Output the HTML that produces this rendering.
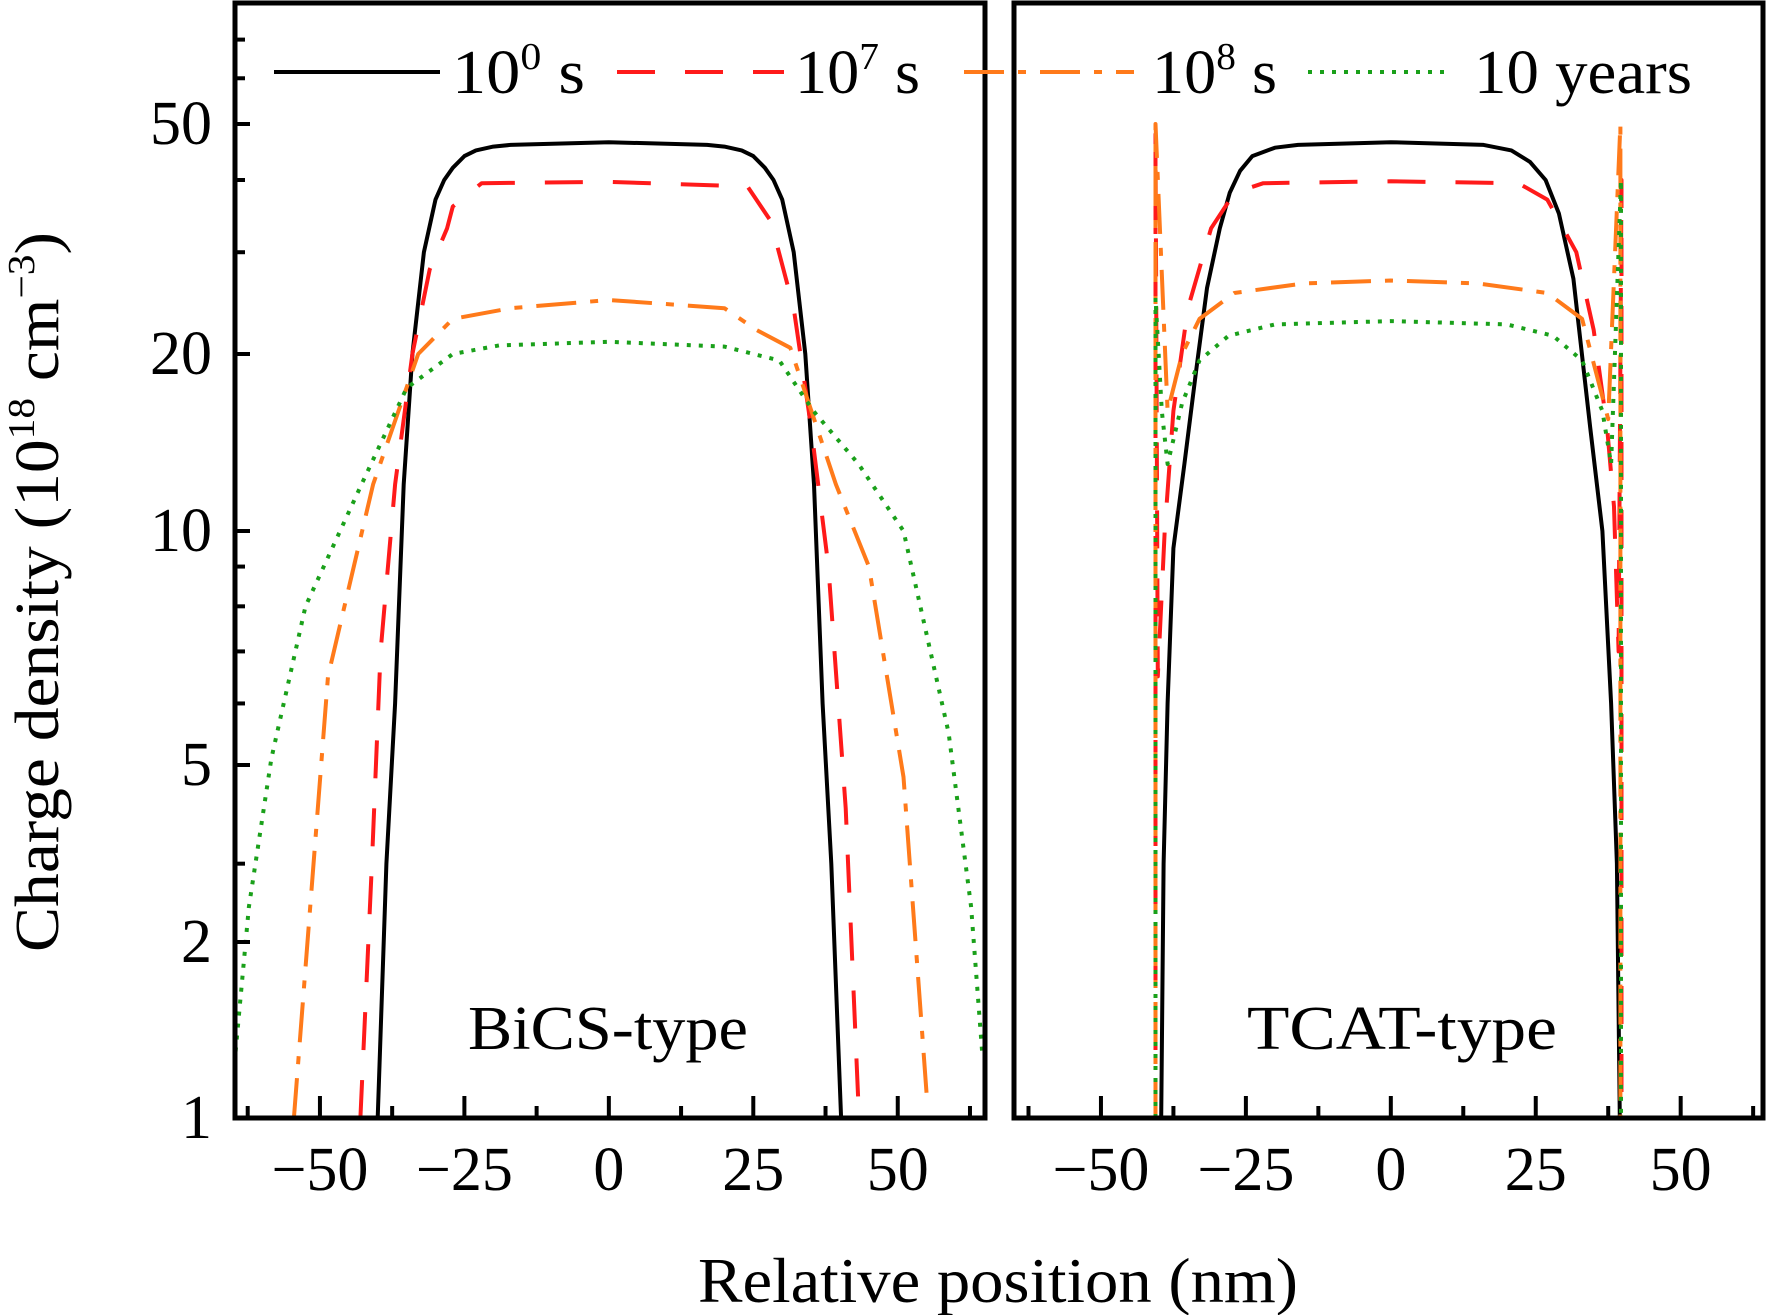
<!DOCTYPE html>
<html><head><meta charset="utf-8"><style>
html,body{margin:0;padding:0;background:#fff;}
svg{display:block;font-family:"Liberation Serif",serif;}
</style></head><body>
<svg id="chart" width="1769" height="1315" viewBox="0 0 1769 1315" xmlns="http://www.w3.org/2000/svg">
<defs>
<clipPath id="clipL"><rect x="235" y="3" width="750" height="1115"/></clipPath>
<clipPath id="clipR"><rect x="1014" y="3" width="749" height="1115"/></clipPath>
</defs>
<g id="plots"></g>
<g>
<line x1="274" y1="72" x2="440" y2="72" stroke="#000" stroke-width="4"/>
<text x="452" y="93" font-size="62" textLength="133" lengthAdjust="spacingAndGlyphs">10<tspan dy="-24" font-size="38">0</tspan><tspan dy="24"> s</tspan></text>
<line x1="617" y1="72" x2="784" y2="72" stroke="#ff1a1a" stroke-width="4" stroke-dasharray="38,30"/>
<text x="795" y="93" font-size="62" textLength="125" lengthAdjust="spacingAndGlyphs">10<tspan dy="-24" font-size="38">7</tspan><tspan dy="24"> s</tspan></text>
<line x1="964" y1="72" x2="1134" y2="72" stroke="#ff7a1a" stroke-width="4" stroke-dasharray="40,14,8,14"/>
<text x="1152" y="93" font-size="62" textLength="125" lengthAdjust="spacingAndGlyphs">10<tspan dy="-24" font-size="38">8</tspan><tspan dy="24"> s</tspan></text>
<line x1="1308" y1="72" x2="1444" y2="72" stroke="#1aa01a" stroke-width="4" stroke-dasharray="4,8"/>
<text x="1474" y="93" font-size="62" textLength="218" lengthAdjust="spacingAndGlyphs">10 years</text>
</g>
<text x="608" y="1049" font-size="62" text-anchor="middle" textLength="280" lengthAdjust="spacingAndGlyphs">BiCS-type</text>
<text x="1402" y="1049" font-size="62" text-anchor="middle" textLength="310" lengthAdjust="spacingAndGlyphs">TCAT-type</text>
<text x="998" y="1302" font-size="64" text-anchor="middle" textLength="600" lengthAdjust="spacingAndGlyphs">Relative position (nm)</text>
<text transform="translate(58,592) rotate(-90)" font-size="62" text-anchor="middle" textLength="720" lengthAdjust="spacingAndGlyphs">Charge density (10<tspan dy="-24" font-size="38">18</tspan><tspan dy="24"> cm</tspan><tspan dy="-24" font-size="38">−3</tspan><tspan dy="24">)</tspan></text>
</svg>
<script>
const yTickValues=[1,2,5,10,20,50];
const yTickLabels=["1","2","5","10","20","50"];
const yMinorValues=[3,6,7,8,9,30,40,60,70];
const xTickValues=[-50,-25,0,25,50];
const xTickLabels=["\u221250","\u221225","0","25","50"];
const xMinorValues=[-62.5,-37.5,-12.5,12.5,37.5,62.5];
const seriesNames=["1e0s","1e7s","1e8s","10years"];
const bicsBlack=[[-40,1],[-38.5,3],[-37,6],[-35.5,12],[-34,20],[-32,30],[-30,37],[-28.5,40],[-27,42],[-25,44],[-23,45],[-20,45.7],[-17,46],[0,46.5],[17,46],[20,45.7],[23,45],[25,44],[27,42],[28.5,40],[30,37],[32,30],[34,20],[35.5,12],[37,6],[38.5,3],[40.2,1]];
const bicsRed=[[-43,1],[-41,3],[-39.5,7],[-37,12],[-34,20],[-31,28],[-28,33],[-27,36],[-22,39.5],[0,39.7],[24,39],[28,34],[32,24],[35,15],[38,9],[41,4],[43.3,1]];
const bicsOrange=[[-54.5,1],[-48.6,6.5],[-40.8,12],[-33,20],[-27,23],[-17,24],[0,24.8],[20,24],[25.6,22],[31.4,20.5],[39.3,12],[45,9],[51,4.7],[55,1.1]];
const bicsGreen=[[-64.6,1.3],[-62.3,2.4],[-58.4,5.1],[-52.5,8],[-42.8,12],[-35,17.5],[-27,20],[-19,20.7],[0,21],[20,20.6],[29.5,19.5],[35.4,16],[43.2,13],[51,10],[58.8,5.5],[62.7,2.4],[64.6,1.3]];
const tcatBlack=[[-39.6,1],[-39.2,3],[-38.5,6],[-37.5,9.5],[-35.6,13],[-33.5,19],[-31.7,26],[-29.5,33],[-27.8,38],[-26,41.5],[-23.9,44],[-20,45.5],[-16,46],[0,46.5],[16,46],[20.8,45],[24,43],[26.7,40],[29,35],[31.5,27],[34.4,15],[36.5,10],[38,6],[39,3],[39.5,1]];
const tcatRed=[[-40.6,1],[-40.6,48],[-40.2,6.5],[-39,10],[-37.5,16],[-35,24],[-31,33],[-27,38],[-22,39.5],[0,39.8],[22,39.5],[27,37],[32,30],[35,22],[37.3,15],[38.5,11],[39.3,7],[39.8,40],[39.8,1]];
const tcatOrange=[[-40.6,1],[-40.6,50],[-38.5,16],[-36,20],[-33,23],[-27,25.5],[-15,26.5],[0,26.8],[15,26.5],[27,25.5],[33,23],[37.5,15.5],[39.6,50],[39.6,1]];
const tcatGreen=[[-40.6,1],[-40.6,25],[-39.5,16],[-38.5,13],[-36,16.5],[-33,19.5],[-28,21.5],[-20,22.5],[0,22.8],[20,22.5],[28,21.5],[33,19.5],[36.5,16],[38,13],[39.7,40],[39.7,1]];

const NS="http://www.w3.org/2000/svg";
const yAnchors=[[0,1118],[Math.log10(2),942],[Math.log10(5),765],[1,531],[Math.log10(20),354],[Math.log10(50),124],[Math.log10(81),3]];
function yScale(v){const l=Math.log10(v);
 for(let i=0;i<yAnchors.length-1;i++){const a=yAnchors[i],b=yAnchors[i+1];
  if(l<=b[0]||i===yAnchors.length-2){return a[1]+(l-a[0])/(b[0]-a[0])*(b[1]-a[1]);}}}
function makeX(x0,x1,d0,d1){return v=>x0+(v-d0)/(d1-d0)*(x1-x0);}
const panels=[
 {name:"bics",x0:235,x1:985,d0:-64.7,d1:65.1,clip:"clipL",data:[bicsBlack,bicsRed,bicsOrange,bicsGreen]},
 {name:"tcat",x0:1014,x1:1763,d0:-65,d1:64.2,clip:"clipR",data:[tcatBlack,tcatRed,tcatOrange,tcatGreen]}];
const styles=[{c:"#000",d:"none",w:4},{c:"#ff1a1a",d:"38,30",w:4},{c:"#ff7a1a",d:"40,14,8,14",w:4},{c:"#1aa01a",d:"4,8",w:4}];
const root=document.getElementById("plots");
function el(t,a){const e=document.createElementNS(NS,t);for(const k in a)e.setAttribute(k,a[k]);return e;}
panels.forEach((p,pi)=>{
 const xs=makeX(p.x0,p.x1,p.d0,p.d1);
 const g=el("g",{"clip-path":"url(#"+p.clip+")"});
 
 
 root.appendChild(g);
 p.data.forEach((arr,si)=>{
  const d=arr.map((pt,i)=>(i?"L":"M")+xs(pt[0]).toFixed(1)+","+yScale(pt[1]).toFixed(1)).join(" ");
  const s=styles[si];
  const path=el("path",{d:d,fill:"none",stroke:s.c,"stroke-width":s.w,"stroke-dasharray":s.d,"stroke-linejoin":"round"});
  
  
  g.appendChild(path);
 });
 const frame=el("rect",{x:p.x0,y:3,width:p.x1-p.x0,height:1115,fill:"none",stroke:"#000","stroke-width":5});
 
 
 root.appendChild(frame);
 xTickValues.forEach((v,i)=>{
  const x=xs(v);
  const t=el("line",{x1:x,x2:x,y1:1118,y2:1096,stroke:"#000","stroke-width":4});
  
  
  root.appendChild(t);
  const lb=el("text",{x:x,y:1190,"font-size":62,"text-anchor":"middle"});
  
  
  lb.textContent=xTickLabels[i];
  root.appendChild(lb);
 });
 xMinorValues.forEach(v=>{
  const x=xs(v); if(x<p.x0+5||x>p.x1-5)return;
  const t=el("line",{x1:x,x2:x,y1:1118,y2:1106,stroke:"#000","stroke-width":4});
  
  
  root.appendChild(t);
 });
});
yTickValues.forEach((v,i)=>{
 const y=yScale(v);
 const t=el("line",{x1:235,x2:250,y1:y,y2:y,stroke:"#000","stroke-width":4});
 
 
 root.appendChild(t);
 const lb=el("text",{x:212,y:y+20,"font-size":62,"text-anchor":"end"});
 
 
 lb.textContent=yTickLabels[i];
 root.appendChild(lb);
});
yMinorValues.forEach(v=>{
 const y=yScale(v);
 const t=el("line",{x1:235,x2:245,y1:y,y2:y,stroke:"#000","stroke-width":4});
 
 
 root.appendChild(t);
});
</script>
</body></html>
